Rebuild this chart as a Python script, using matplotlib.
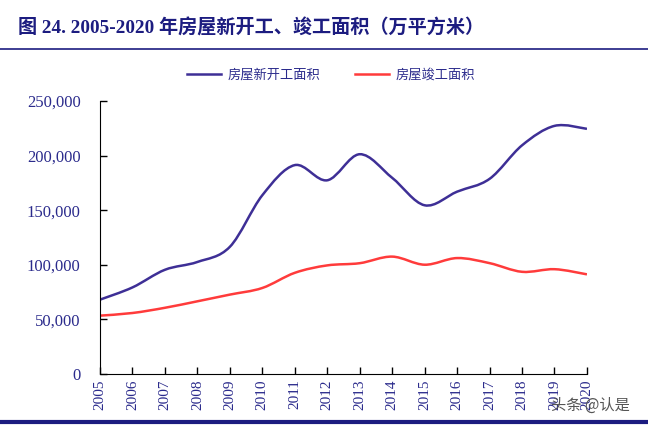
import matplotlib
matplotlib.use('Agg')
from matplotlib import pyplot as plt
from matplotlib.path import Path
import matplotlib.patches as patches
from matplotlib.ticker import FuncFormatter
import numpy as np

years = [2005, 2006, 2007, 2008, 2009, 2010, 2011, 2012,
         2013, 2014, 2015, 2016, 2017, 2018, 2019, 2020]
new_start = [68064, 79253, 95402, 102553, 116422, 163647, 191237, 177334,
             201208, 179592, 154454, 166928, 178654, 209342, 227154, 224433]
completed = [53417, 55831, 60607, 66545, 72677, 78744, 92620, 99425,
             101435, 107459, 100039, 106128, 101486, 93550, 95942, 91218]

navy = '#2b2b8c'
cjk = ['Noto Sans CJK SC', 'DejaVu Sans']
serif = ['Liberation Serif', 'DejaVu Serif']
title_fam = ['Liberation Serif', 'Noto Sans CJK SC']


def smooth_path(xs, ys):
    # catmull-rom style bezier, like excel's smoothed line
    pts = np.column_stack([xs, ys]).astype(float)
    verts = [pts[0]]
    codes = [Path.MOVETO]
    n = len(pts)
    for i in range(n - 1):
        p0 = pts[i - 1] if i > 0 else pts[i]
        p1 = pts[i]
        p2 = pts[i + 1]
        p3 = pts[i + 2] if i + 2 < n else pts[i + 1]
        c1 = p1 + (p2 - p0) / 6.0
        c2 = p2 - (p3 - p1) / 6.0
        verts += [c1, c2, p2]
        codes += [Path.CURVE4] * 3
    return Path(verts, codes)


fig = plt.figure(figsize=(6.48, 4.28), dpi=100)
ax = fig.add_axes([0.1543, 0.1262, 0.7515, 0.638])

for vals, col, lab in [(new_start, '#3e2f96', '房屋新开工面积'),
                       (completed, '#ff3b3b', '房屋竣工面积')]:
    ax.add_patch(patches.PathPatch(smooth_path(years, vals), fill=False,
                                   edgecolor=col, linewidth=1.8))
    ax.plot([], [], color=col, linewidth=1.8, label=lab)

ax.set_xlim(2005, 2020)
ax.set_ylim(0, 250000)
ax.set_xticks(years)
ax.set_xticklabels([str(y) for y in years], rotation=90, fontsize=11,
                   color=navy, family=serif)
ax.set_yticks(range(0, 250001, 50000))
ax.yaxis.set_major_formatter(FuncFormatter(lambda v, p: f'{int(v):,}'))
for t in ax.get_yticklabels():
    t.set_family(serif)
    t.set_color(navy)
    t.set_fontsize(12)
ax.tick_params(direction='in', length=5, width=1, color='black', pad=4)
ax.tick_params(axis='y', pad=14)
ax.spines['top'].set_visible(False)
ax.spines['right'].set_visible(False)

leg = ax.legend(loc='center', bbox_to_anchor=(0.475, 1.095), ncol=2,
                frameon=False, prop={'family': cjk, 'size': 9.5},
                handlelength=2.6, columnspacing=2.6, handletextpad=0.5)
for t in leg.get_texts():
    t.set_color(navy)

fig.text(0.028, 0.935, '图 24. 2005-2020 年房屋新开工、竣工面积（万平方米）',
         fontsize=13.8, fontweight='bold', color='#1c1c80', family=title_fam,
         va='center')
fig.add_artist(plt.Line2D([0, 1], [0.886, 0.886], color='#1c1c80', linewidth=1.2))
fig.add_artist(plt.Line2D([0, 1], [0.013, 0.013], color='#1c1c80', linewidth=3))
fig.text(0.85, 0.052, '头条 @认是', fontsize=11, color='#555555', family=cjk,
         va='center')

fig.savefig('out.png', dpi=100)
